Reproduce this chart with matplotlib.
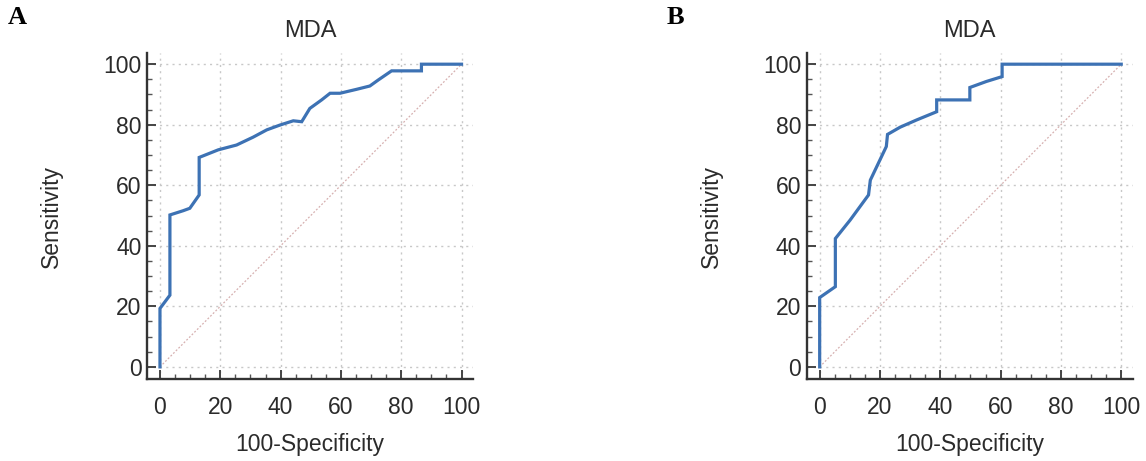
import matplotlib
matplotlib.use("Agg")
import matplotlib.pyplot as plt
from matplotlib.ticker import MultipleLocator

plt.rcParams['font.family'] = ['Liberation Sans', 'DejaVu Sans']

# Panel A ROC curve (100-Specificity, Sensitivity)
a_fpr = [0, 0, 3.3, 3.3, 7.7, 9.9, 13.0, 13.0, 19.3, 25.4, 30.9, 35.4, 39.8, 44.2,
         47.0, 49.7, 53.6, 56.4, 59.7, 65.2, 69.6, 72.4, 76.8, 86.7, 86.7, 100]
a_tpr = [0, 19.3, 23.7, 50.2, 51.6, 52.4, 56.8, 69.2, 71.7, 73.3, 75.9, 78.3, 79.9, 81.3,
         81.0, 85.4, 88.2, 90.4, 90.4, 91.7, 92.8, 94.8, 97.8, 97.8, 100, 100]

# Panel B ROC curve
b_fpr = [0, 0, 5.2, 5.2, 10.1, 16.2, 16.8, 22.1, 22.5, 26.7, 32.2, 38.8, 38.8,
         49.8, 49.8, 55.3, 60.5, 60.5, 100]
b_tpr = [0, 22.9, 26.5, 42.4, 48.5, 56.8, 61.7, 72.8, 76.8, 79.2, 81.6, 84.3, 88.2,
         88.2, 92.3, 94.3, 95.9, 100, 100]

titles = ["MDA", "MDA"]
letters = ["A", "B"]
ticks = [0, 20, 40, 60, 80, 100]

W, H = 1146, 461
fig = plt.figure(figsize=(W / 100, H / 100), dpi=100)

panels = [(a_fpr, a_tpr, 147), (b_fpr, b_tpr, 806.7)]
letter_x = [8, 667]
curve_color = '#3d72b4'
txt = '#2b2b2b'

for i, (fx, ty, left_px) in enumerate(panels):
    ax = fig.add_axes([left_px / W, 82 / H, 326 / W, 325.7 / H])
    ax.set_xlim(-4.3, 103.8)
    ax.set_ylim(-4.0, 103.6)
    for s in ['top', 'right']:
        ax.spines[s].set_visible(False)
    for s in ['left', 'bottom']:
        ax.spines[s].set_linewidth(1.7)
        ax.spines[s].set_color('#333333')
    ax.xaxis.set_minor_locator(MultipleLocator(5))
    ax.yaxis.set_minor_locator(MultipleLocator(5))
    ax.set_xticks(ticks)
    ax.set_yticks(ticks)
    ax.tick_params(which='major', direction='in', length=6.5, width=1.4, color='#444444',
                   labelsize=16.5, labelcolor=txt)
    ax.tick_params(axis='x', which='major', pad=12)
    ax.tick_params(axis='y', which='major', pad=4)
    ax.tick_params(which='minor', direction='in', length=3.5, width=1.0, color='#555555')
    ax.grid(True, which='major', linestyle=(0, (1.5, 3)), color='#c8c8c8', linewidth=1.0)
    ax.set_axisbelow(True)
    ax.plot([0, 100], [0, 100], linestyle=(0, (1.5, 1.5)), color='#d6b0b0', linewidth=0.9)
    ax.plot(fx, ty, color=curve_color, linewidth=2.3, solid_joinstyle='miter')
    ax.set_title(titles[i], fontsize=17, color=txt, pad=12)
    ax.set_xlabel("100-Specificity", fontsize=16.5, color=txt)
    ax.set_ylabel("Sensitivity", fontsize=16.5, color=txt)
    ax.xaxis.set_label_coords(0.5, -0.165)
    ax.yaxis.set_label_coords(-0.258, 0.5)
    fig.text(letter_x[i] / W, 1 - 17 / H, letters[i], family='Liberation Serif',
             fontweight='bold', fontsize=19, ha='left', va='center')

fig.savefig("out.png", dpi=100)
